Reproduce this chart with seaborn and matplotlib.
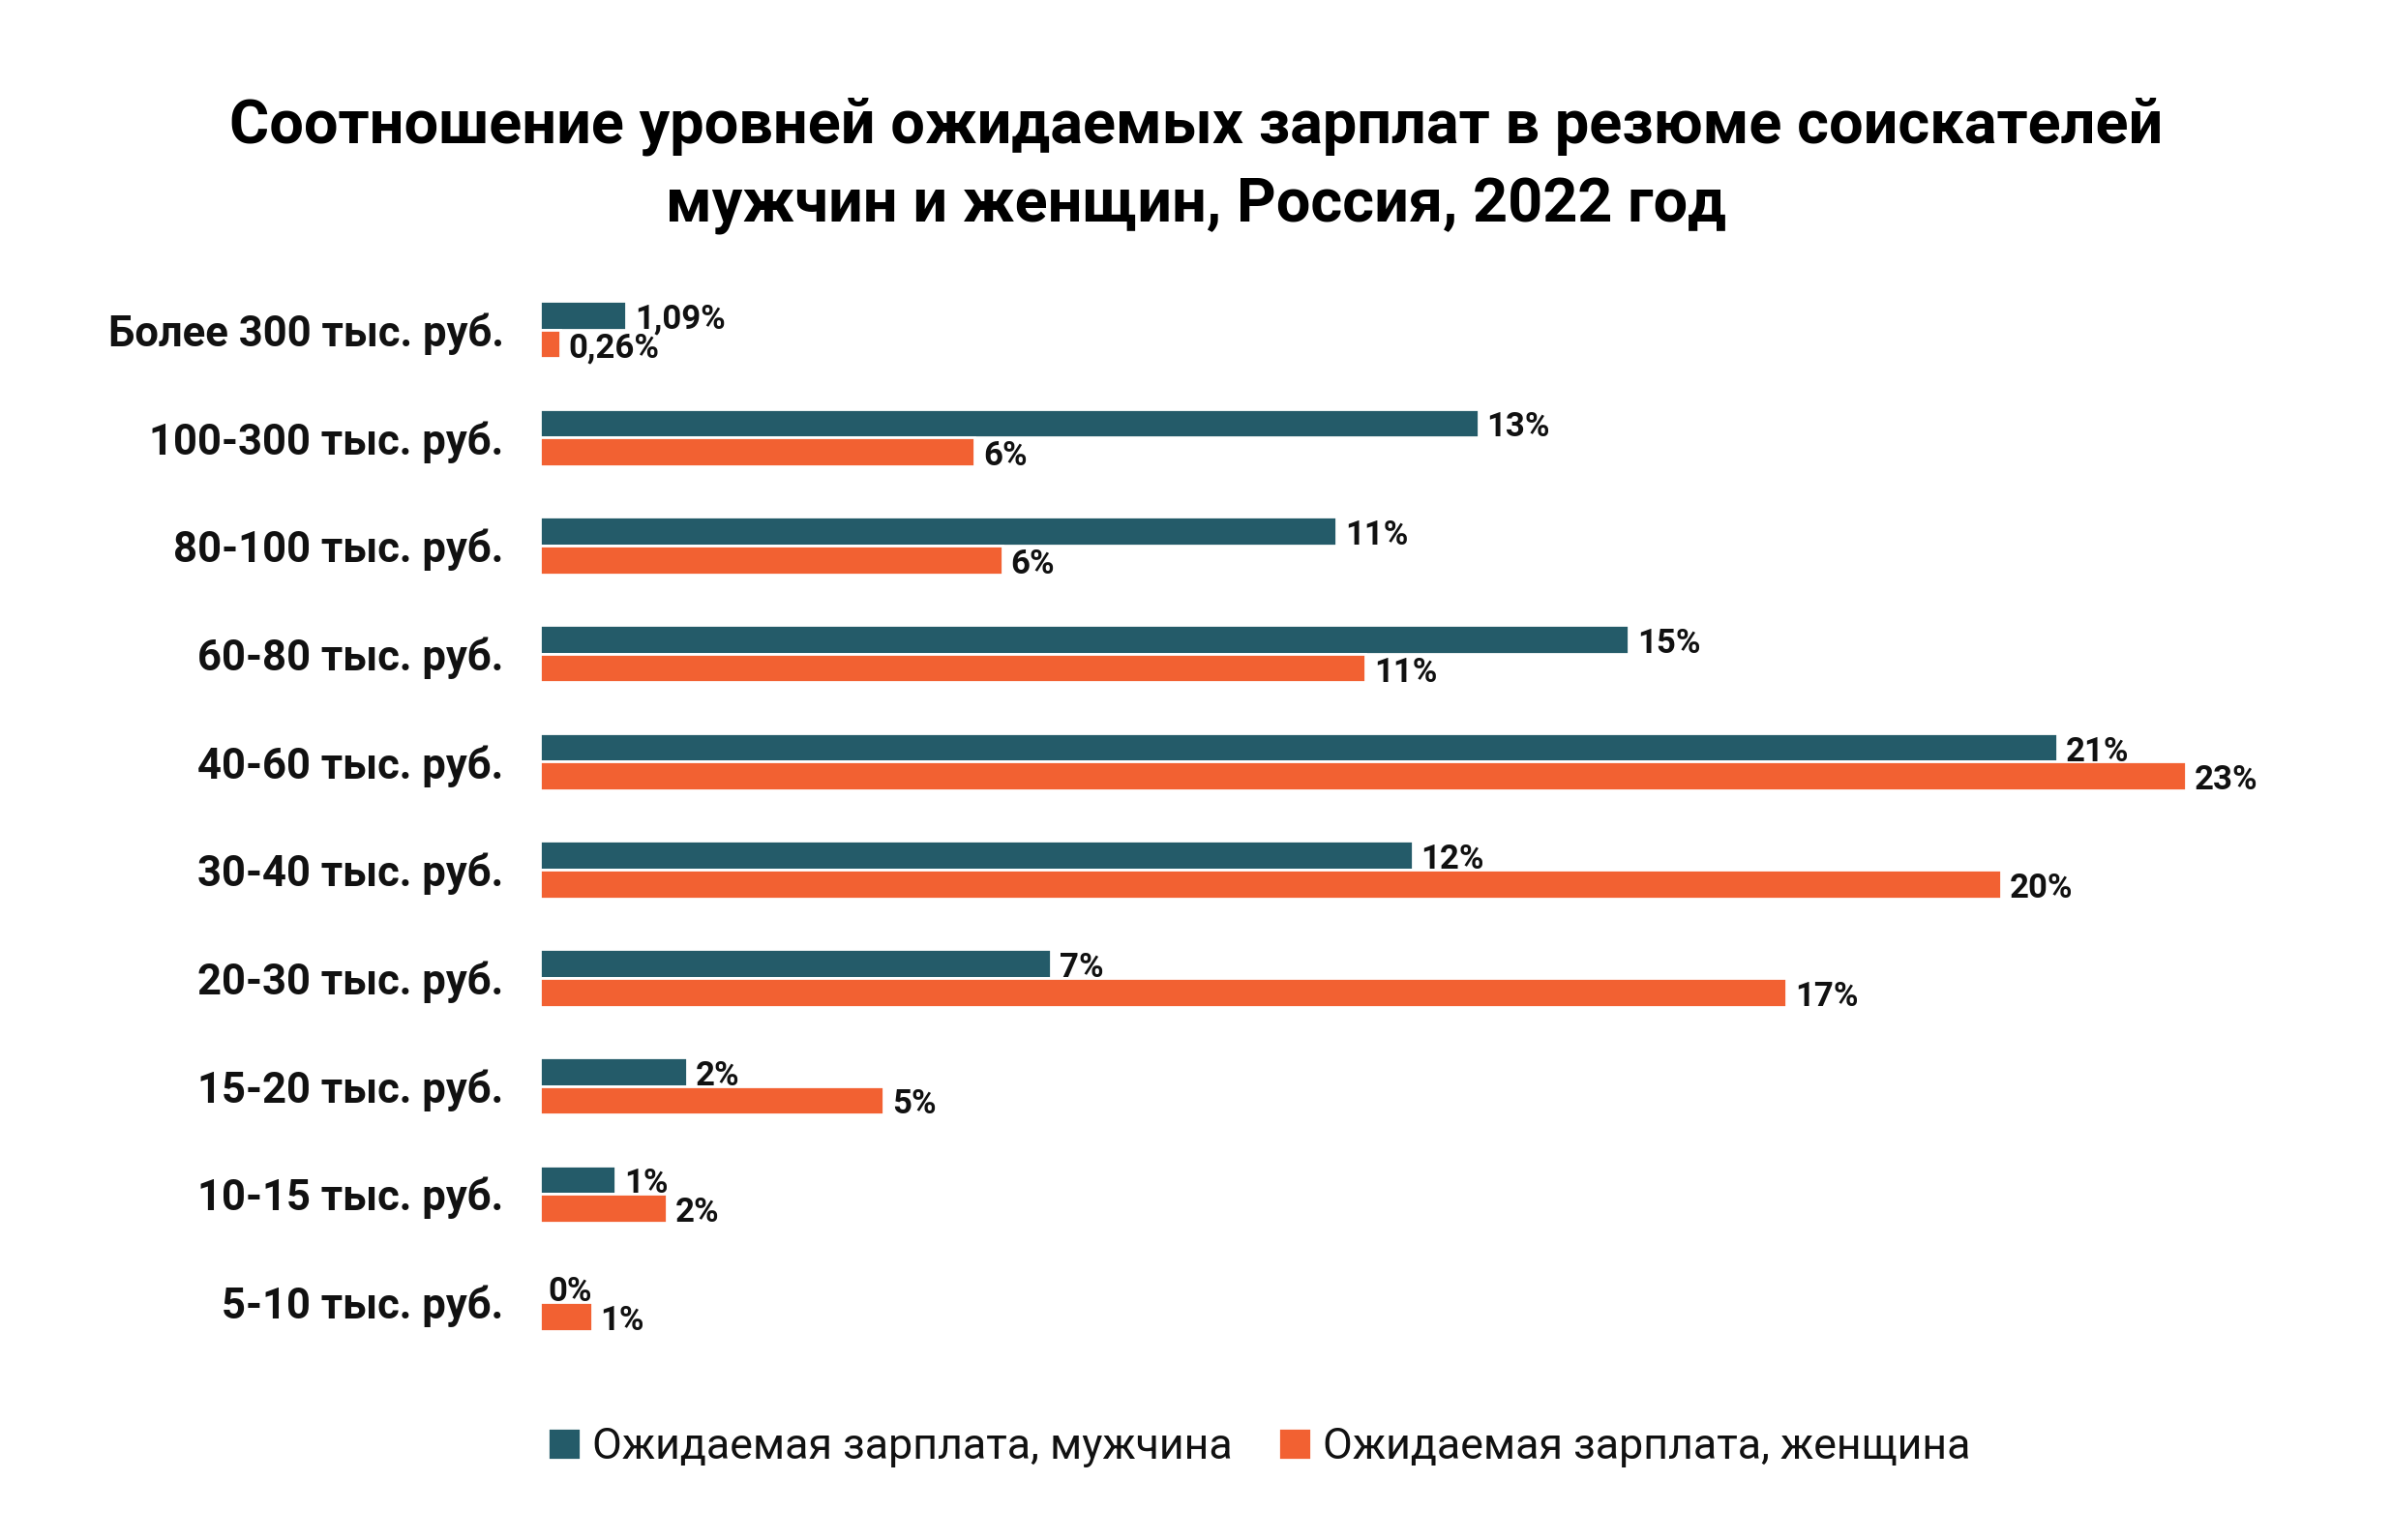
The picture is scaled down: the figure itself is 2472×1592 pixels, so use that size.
import matplotlib
matplotlib.use("Agg")
import matplotlib.pyplot as plt
import seaborn as sns
import pandas as pd

# ---- data ----
categories = ["Более 300 тыс. руб.", "100-300 тыс. руб.", "80-100 тыс. руб.",
              "60-80 тыс. руб.", "40-60 тыс. руб.", "30-40 тыс. руб.",
              "20-30 тыс. руб.", "15-20 тыс. руб.", "10-15 тыс. руб.",
              "5-10 тыс. руб."]
series_names = ["Ожидаемая зарплата, мужчина", "Ожидаемая зарплата, женщина"]
men_values = [1.21, 13.11, 11.13, 15.21, 21.20, 12.19, 7.14, 2.06, 1.06, 0.0]
women_values = [0.29, 6.08, 6.46, 11.54, 22.99, 20.41, 17.41, 4.81, 1.78, 0.73]
men_labels = ["1,09%", "13%", "11%", "15%", "21%", "12%", "7%", "2%", "1%", "0%"]
women_labels = ["0,26%", "6%", "6%", "11%", "23%", "20%", "17%", "5%", "2%", "1%"]
title = "Соотношение уровней ожидаемых зарплат в резюме соискателей\nмужчин и женщин, Россия, 2022 год"

colors = ["#245B69", "#F26132"]

df = pd.DataFrame({
    "cat": categories * 2,
    "value": men_values + women_values,
    "series": [series_names[0]] * len(categories) + [series_names[1]] * len(categories),
})

sns.set_style("white")
plt.rcParams["font.family"] = ["Roboto", "DejaVu Sans"]

DPI = 200
W, H = 2472, 1592
fig = plt.figure(figsize=(W / DPI, H / DPI), dpi=DPI)
fig.patch.set_facecolor("white")

# axes placement (pixels -> fractions)
left_px, right_px = 557.5, 557.5 + 74.0 * 25
top_px, bot_px = 284.8, 284.8 + 1117
ax = fig.add_axes([left_px / W, 1 - bot_px / H, (right_px - left_px) / W, (bot_px - top_px) / H])

sns.barplot(data=df, y="cat", x="value", hue="series", order=categories,
            hue_order=series_names, palette=colors, orient="h", width=0.532,
            gap=0, saturation=1, ax=ax, errorbar=None)

ax.set_xlim(0, 25)
ax.set_ylim(9.5, -0.5)
for s in ax.spines.values():
    s.set_visible(False)
ax.set_xticks([])
ax.set_xlabel("")
ax.set_ylabel("")
ax.tick_params(axis="y", length=0, pad=13.3)
for t in ax.get_yticklabels():
    t.set_fontsize(15.7)
    t.set_fontweight("bold")
    t.set_color("#111111")

for cont, labs in zip(ax.containers, [men_labels, women_labels]):
    anns = ax.bar_label(cont, labels=labs, padding=3.2, fontsize=12.5, fontweight="bold",
                        color="#111111")
    for a in anns:
        x0, y0 = a.xyann
        a.xyann = (x0, y0 - 1.6)

handles, labels = ax.get_legend_handles_labels()
if ax.get_legend() is not None:
    ax.get_legend().remove()
fig.legend(handles, labels, loc="center", bbox_to_anchor=(0.5265, 1 - 1496 / H),
           ncol=2, frameon=False, fontsize=16.1, handlelength=0.75, handleheight=0.75,
           handletextpad=0.28, columnspacing=1.05, labelcolor="#111111")

fig.text(0.5, 1 - 172 / H, title, ha="center", va="center", fontsize=22.7,
         fontweight="bold", linespacing=1.46, color="#000000")

fig.savefig("out.png", dpi=DPI, facecolor="white")
